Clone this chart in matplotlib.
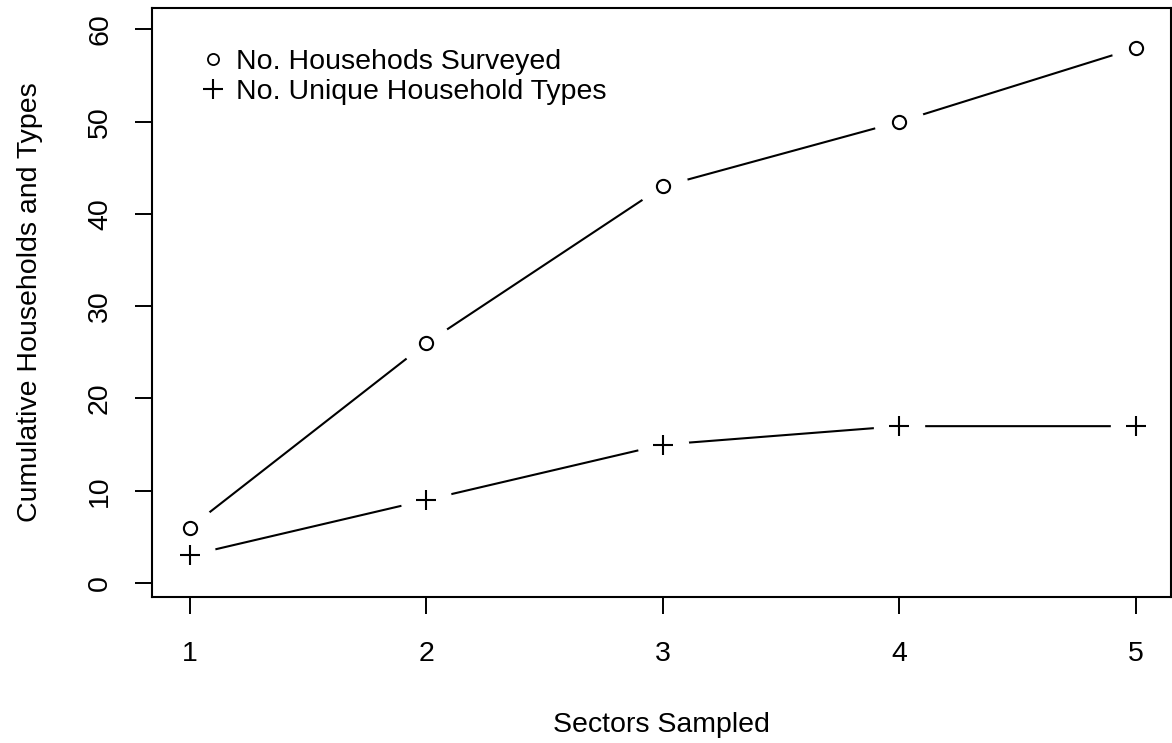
import numpy as np
import matplotlib
matplotlib.use('Agg')
import matplotlib.pyplot as plt
from matplotlib.lines import Line2D

# data
sectors = [1, 2, 3, 4, 5]
households = [6, 26, 43, 50, 58]
unique_types = [3, 9, 15, 17, 17]
yticks = [0, 10, 20, 30, 40, 50, 60]

plt.rcParams['font.family'] = ['Liberation Sans', 'DejaVu Sans']
fs = 20.5

fig = plt.figure(figsize=(11.72, 7.43), dpi=100)
ax = fig.add_axes([152/1172, 1 - 597/743, 1019/1172, 589/743])

# lines, then white halos to make the R 'type="b"' gaps, then the symbols
ax.plot(sectors, households, color='black', lw=1.5, zorder=1)
ax.plot(sectors, unique_types, color='black', lw=1.5, zorder=1)
ax.plot(sectors, households, ls='none', marker='o', ms=35, mfc='white', mec='white', zorder=2)
ax.plot(sectors, unique_types, ls='none', marker='o', ms=36, mfc='white', mec='white', zorder=2)
ax.plot(sectors, households, ls='none', marker='o', ms=9.5, mfc='white', mec='black', mew=1.5, zorder=3)
ax.plot(sectors, unique_types, ls='none', marker='+', ms=15, mec='black', mew=1.5, zorder=3)

ax.set_xlim(0.84, 5.148)
ax.set_ylim(-1.52, 62.33)
ax.set_xticks(sectors)
ax.set_yticks(yticks)
ax.tick_params(axis='both', direction='out', length=12, width=1.4, labelsize=fs, color='black')
ax.tick_params(axis='x', pad=20)
ax.tick_params(axis='y', pad=16)
for lab in ax.get_yticklabels():
    lab.set_rotation(90)
    lab.set_va('center')
for sp in ax.spines.values():
    sp.set_linewidth(1.5)

ax.set_xlabel('Sectors Sampled', fontsize=fs)
ax.xaxis.set_label_coords(0.5, (597 - 725) / 589)
ax.xaxis.label.set_va('center')
ax.set_ylabel('Cumulative Households and Types', fontsize=fs)
ax.yaxis.set_label_coords((30 - 152) / 1019, 0.5)
ax.yaxis.label.set_va('center')

handles = [Line2D([], [], ls='none', marker='o', ms=8, mfc='white', mec='black', mew=1.3),
           Line2D([], [], ls='none', marker='+', ms=15, mec='black', mew=1.5)]
ax.legend(handles, ['No. Househods Surveyed', 'No. Unique Household Types'],
          loc='upper left', bbox_to_anchor=(0.035, 0.95), frameon=False, fontsize=fs,
          handlelength=1.0, handletextpad=0.3, labelspacing=0.14, borderaxespad=0)

fig.savefig('out.png', dpi=100)
